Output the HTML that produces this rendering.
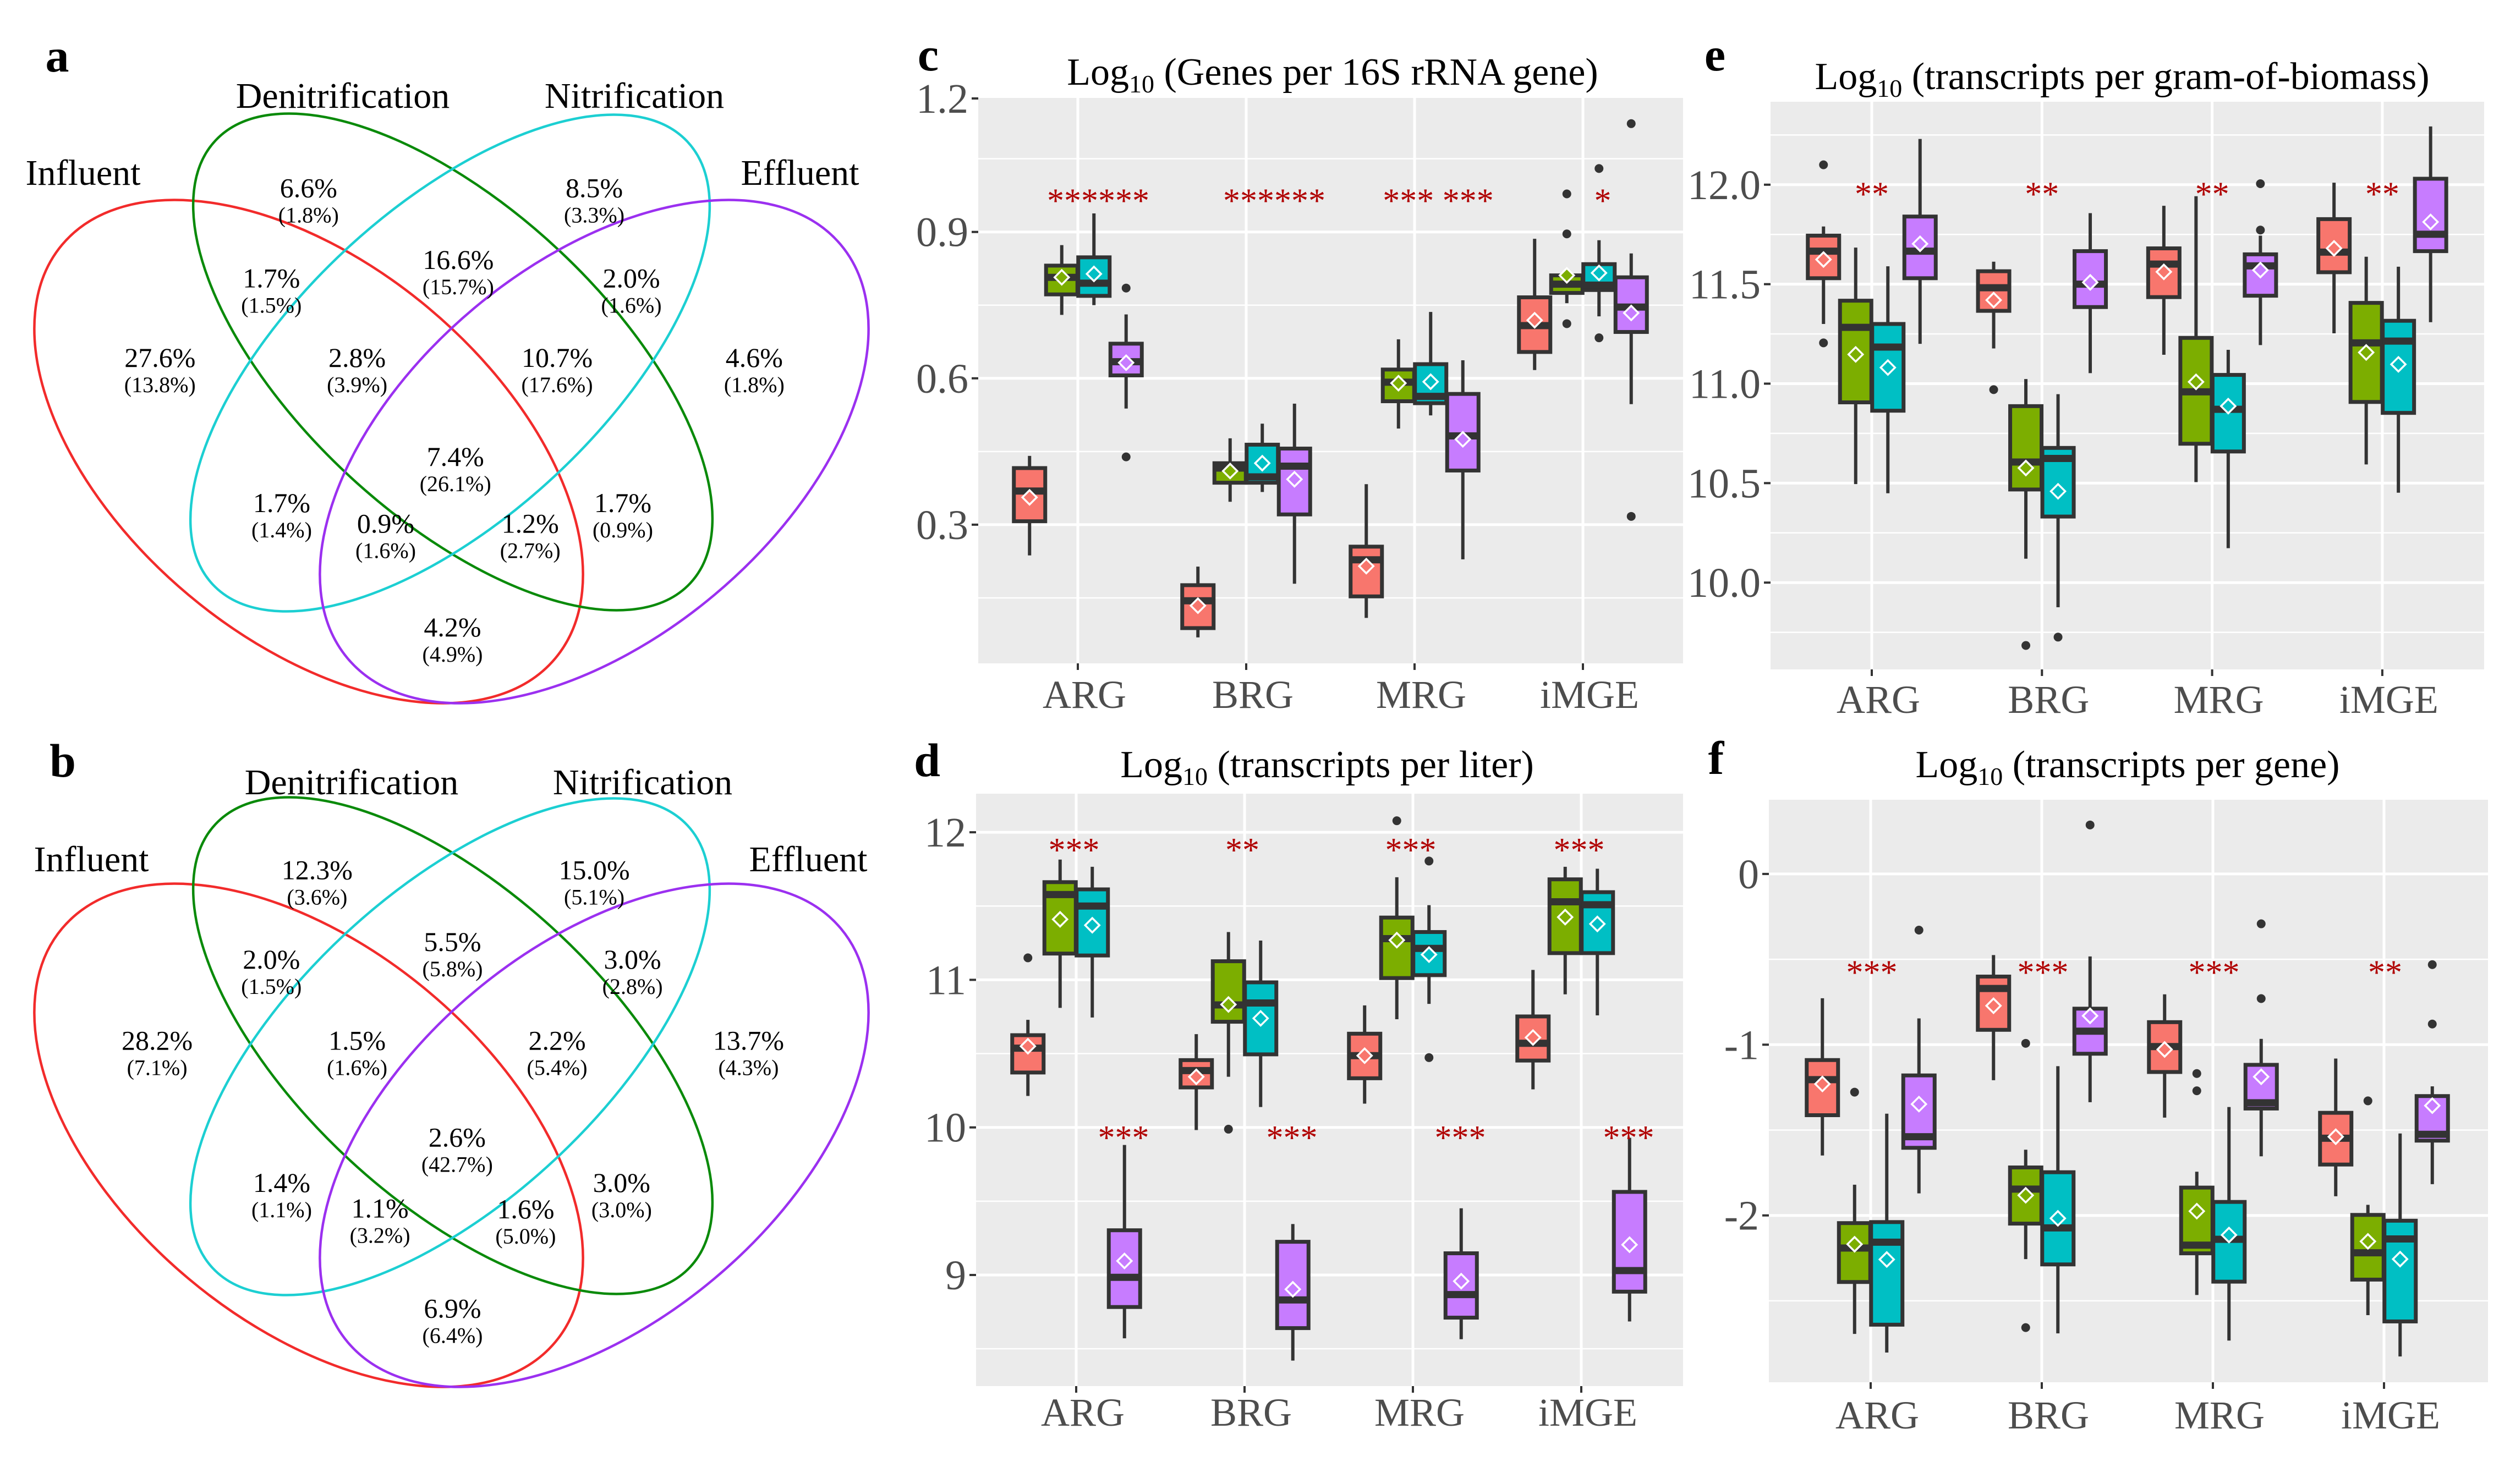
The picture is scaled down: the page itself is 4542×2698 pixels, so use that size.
<!DOCTYPE html>
<html><head><meta charset="utf-8">
<style>
html,body{margin:0;padding:0;background:#fff;}
svg{display:block;font-family:"Liberation Serif",serif;}
</style></head>
<body>
<svg id="fig" xmlns="http://www.w3.org/2000/svg" width="4542" height="2698" viewBox="0 0 4542 2698">
<rect x="0" y="0" width="4542" height="2698" fill="#fff"/>

<!-- Venn a -->
<g>
  <text x="104" y="130" font-size="86" font-weight="bold" text-anchor="middle">a</text>
  <ellipse cx="561" cy="821" rx="585" ry="340" transform="rotate(40 561 821)" fill="none" stroke="#F22B2B" stroke-width="4.5"/>
  <ellipse cx="823" cy="658" rx="590" ry="280" transform="rotate(43 823 658)" fill="none" stroke="#0A8A0A" stroke-width="4.5"/>
  <ellipse cx="818" cy="660" rx="590" ry="280" transform="rotate(-43 818 660)" fill="none" stroke="#1CCFD2" stroke-width="4.5"/>
  <ellipse cx="1080" cy="821" rx="585" ry="340" transform="rotate(-40 1080 821)" fill="none" stroke="#9B30F0" stroke-width="4.5"/>
  <g font-size="66" text-anchor="middle">
    <text x="623" y="196">Denitrification</text>
    <text x="1153" y="196">Nitrification</text>
    <text x="151" y="336">Influent</text>
    <text x="1454" y="336">Effluent</text>
  </g>
  <g id="vennA"></g>
</g>

<!-- Venn b -->
<g>
  <text x="114" y="1412" font-size="86" font-weight="bold" text-anchor="middle">b</text>
  <g transform="translate(0,1243)">
  <ellipse cx="561" cy="821" rx="585" ry="340" transform="rotate(40 561 821)" fill="none" stroke="#F22B2B" stroke-width="4.5"/>
  <ellipse cx="823" cy="658" rx="590" ry="280" transform="rotate(43 823 658)" fill="none" stroke="#0A8A0A" stroke-width="4.5"/>
  <ellipse cx="818" cy="660" rx="590" ry="280" transform="rotate(-43 818 660)" fill="none" stroke="#1CCFD2" stroke-width="4.5"/>
  <ellipse cx="1080" cy="821" rx="585" ry="340" transform="rotate(-40 1080 821)" fill="none" stroke="#9B30F0" stroke-width="4.5"/>
  </g>
  <g font-size="66" text-anchor="middle">
    <text x="639" y="1444">Denitrification</text>
    <text x="1168" y="1444">Nitrification</text>
    <text x="166" y="1584">Influent</text>
    <text x="1469" y="1584">Effluent</text>
  </g>
  <g id="vennB"></g>
</g>

<!-- box plot panels -->
<g id="panelC"></g>
<g id="panelD"></g>
<g id="panelE"></g>
<g id="panelF"></g>
</svg>

<script>
// ---------- Venn data ----------
const vennAMain = ["6.6%","8.5%","1.7%","16.6%","2.0%","27.6%","2.8%","10.7%","4.6%","7.4%","1.7%","0.9%","1.2%","1.7%","4.2%"];
const vennASub  = ["(1.8%)","(3.3%)","(1.5%)","(15.7%)","(1.6%)","(13.8%)","(3.9%)","(17.6%)","(1.8%)","(26.1%)","(1.4%)","(1.6%)","(2.7%)","(0.9%)","(4.9%)"];
const vennAPos  = [[540,365],[1040,365],[475,570],[802,528],[1105,570],[280,750],[625,750],[975,750],[1320,750],[797,975],[493,1080],[675,1127],[928,1127],[1090,1080],[792,1362]];
const vennBMain = ["12.3%","15.0%","2.0%","5.5%","3.0%","28.2%","1.5%","2.2%","13.7%","2.6%","1.4%","1.1%","1.6%","3.0%","6.9%"];
const vennBSub  = ["(3.6%)","(5.1%)","(1.5%)","(5.8%)","(2.8%)","(7.1%)","(1.6%)","(5.4%)","(4.3%)","(42.7%)","(1.1%)","(3.2%)","(5.0%)","(3.0%)","(6.4%)"];
const vennBPos  = [[555,315],[1040,315],[475,518],[792,478],[1107,518],[275,702],[625,702],[975,702],[1310,702],[800,922],[493,1025],[665,1083],[920,1085],[1088,1025],[792,1310]];

const NS = "http://www.w3.org/2000/svg";
function mk(tag, attrs, parent){ const e=document.createElementNS(NS,tag); for(const k in attrs) e.setAttribute(k,attrs[k]); if(parent) parent.appendChild(e); return e; }

function drawVenn(gid, mains, subs, pos, yoff){
  const g=document.getElementById(gid);
  for(let i=0;i<mains.length;i++){
    const x=pos[i][0]*1.0385, y=yoff+pos[i][1]*0.801;
    const t=mk("text",{x:x,y:y+16,"font-size":50,"text-anchor":"middle"},g);
    t.textContent=mains[i];
    
    
    const s=mk("text",{x:x,y:y+62,"font-size":40,"text-anchor":"middle"},g);
    s.textContent=subs[i];
    
    
  }
}
drawVenn("vennA",vennAMain,vennASub,vennAPos,50);
drawVenn("vennB",vennBMain,vennBSub,vennBPos,1330);

// ---------- Box plot data ----------
const categories = ["ARG","BRG","MRG","iMGE"];
const groupColors = ["#F8766D","#7CAE00","#00BFC4","#C77CFF"];

// panel c : Log10 (Genes per 16S rRNA gene)
const cLow  = [[0.237,0.730,0.750,0.538],[0.069,0.347,0.367,0.179],[0.109,0.497,0.524,0.229],[0.617,0.754,0.727,0.547]];
const cQ1   = [[0.307,0.772,0.769,0.606],[0.088,0.386,0.386,0.321],[0.153,0.553,0.549,0.411],[0.654,0.775,0.781,0.695]];
const cMed  = [[0.369,0.807,0.795,0.634],[0.144,0.416,0.398,0.420],[0.228,0.592,0.563,0.482],[0.708,0.793,0.791,0.746]];
const cQ3   = [[0.416,0.831,0.848,0.671],[0.176,0.426,0.464,0.456],[0.255,0.618,0.629,0.568],[0.766,0.811,0.834,0.807]];
const cHigh = [[0.441,0.873,0.938,0.731],[0.214,0.477,0.507,0.548],[0.383,0.680,0.736,0.637],[0.886,0.811,0.883,0.856]];
const cMean = [[0.356,0.807,0.814,0.632],[0.134,0.410,0.426,0.393],[0.215,0.590,0.593,0.475],[0.719,0.811,0.816,0.734]];
const cOut  = [[0,3,0.785],[0,3,0.439],[3,1,0.978],[3,1,0.896],[3,1,0.712],[3,2,1.03],[3,2,0.683],[3,3,1.122],[3,3,0.317]];
const cTicks = [0.3,0.6,0.9,1.2];
const cTickLabels = ["0.3","0.6","0.9","1.2"];
const cMinor = [0.15,0.45,0.75,1.05];

// panel d : Log10 (transcripts per liter)
const dLow  = [[10.213,10.81,10.745,8.571],[9.982,10.343,10.138,8.42],[10.161,10.733,10.837,8.565],[10.258,10.902,10.759,8.685]];
const dQ1   = [[10.372,11.178,11.165,8.783],[10.271,10.716,10.495,8.64],[10.333,11.012,11.032,8.711],[10.453,11.181,11.181,8.887]];
const dMed  = [[10.537,11.578,11.5,8.984],[10.385,10.83,10.843,8.831],[10.486,11.279,11.213,8.867],[10.57,11.529,11.509,9.03]];
const dQ3   = [[10.625,11.662,11.613,9.303],[10.456,11.126,10.983,9.225],[10.635,11.422,11.324,9.147],[10.752,11.681,11.594,9.563]];
const dHigh = [[10.729,11.815,11.766,9.881],[10.632,11.324,11.266,9.345],[10.827,11.695,11.506,9.452],[11.067,11.766,11.753,9.93]];
const dMean = [[10.55,11.41,11.37,9.095],[10.343,10.833,10.739,8.903],[10.486,11.269,11.171,8.958],[10.609,11.425,11.379,9.205]];
const dOut  = [[0,0,11.149],[1,1,9.988],[2,1,12.078],[2,2,11.805],[2,2,10.473]];
const dTicks = [9,10,11,12];
const dTickLabels = ["9","10","11","12"];
const dMinor = [8.5,9.5,10.5,11.5];

// panel e : Log10 (transcripts per gram-of-biomass)
const eLow  = [[11.30,10.495,10.449,11.20],[11.177,10.12,9.876,11.053],[11.145,10.505,10.173,11.194],[11.253,10.594,10.452,11.309]];
const eQ1   = [[11.53,10.906,10.864,11.53],[11.366,10.468,10.332,11.385],[11.435,10.698,10.659,11.442],[11.56,10.908,10.853,11.666]];
const eMed  = [[11.666,11.283,11.184,11.666],[11.482,10.606,10.624,11.5],[11.601,10.959,10.871,11.592],[11.661,11.205,11.214,11.751]];
const eQ3   = [[11.744,11.417,11.30,11.84],[11.565,10.887,10.677,11.666],[11.68,11.23,11.044,11.65],[11.827,11.406,11.316,12.03]];
const eHigh = [[11.79,11.684,11.59,12.23],[11.613,11.023,10.947,11.857],[11.894,11.942,11.17,11.744],[12.01,11.638,11.588,12.293]];
const eMean = [[11.624,11.147,11.081,11.703],[11.42,10.576,10.459,11.509],[11.562,11.009,10.887,11.571],[11.68,11.157,11.097,11.813]];
const eOut  = [[0,0,12.10],[0,0,11.205],[1,0,10.97],[1,1,9.684],[1,2,9.726],[2,3,12.005],[2,3,11.772]];
const eTicks = [10,10.5,11,11.5,12];
const eTickLabels = ["10.0","10.5","11.0","11.5","12.0"];
const eMinor = [9.75,10.25,10.75,11.25,11.75,12.25];

// panel f : Log10 (transcripts per gene)
const fLow  = [[-1.649,-2.694,-2.803,-1.871],[-1.208,-2.256,-2.691,-1.337],[-1.427,-2.466,-2.733,-1.654],[-1.888,-2.584,-2.826,-1.817]];
const fQ1   = [[-1.413,-2.39,-2.64,-1.604],[-0.913,-2.048,-2.287,-1.053],[-1.16,-2.222,-2.388,-1.374],[-1.702,-2.376,-2.621,-1.562]];
const fMed  = [[-1.205,-2.191,-2.157,-1.539],[-0.671,-1.846,-2.073,-0.921],[-1.011,-2.174,-2.14,-1.34],[-1.548,-2.219,-2.138,-1.525]];
const fQ3   = [[-1.09,-2.045,-2.039,-1.18],[-0.601,-1.719,-1.747,-0.789],[-0.868,-1.837,-1.921,-1.118],[-1.399,-1.997,-2.031,-1.301]];
const fHigh = [[-0.728,-1.82,-1.404,-0.846],[-0.475,-1.615,-1.126,-0.483],[-0.705,-1.744,-1.365,-0.966],[-1.081,-1.938,-1.52,-1.244]];
const fMean = [[-1.23,-2.169,-2.258,-1.348],[-0.772,-1.882,-2.017,-0.831],[-1.028,-1.975,-2.115,-1.188],[-1.539,-2.152,-2.256,-1.357]];
const fOut  = [[0,1,-1.278],[0,3,-0.329],[1,1,-0.992],[1,1,-2.657],[1,3,0.287],[2,1,-1.169],[2,1,-1.27],[2,3,-0.292],[2,3,-0.73],[3,1,-1.329],[3,3,-0.531],[3,3,-0.879]];
const fTicks = [-2,-1,0];
const fTickLabels = ["-2","-1","0"];
const fMinor = [-2.5,-1.5,-0.5];

// significance annotations: [category index, label, value]
const cStars = [[0,"******",0.979],[1,"******",0.979],[2,"*** ***",0.979],[3,"*",0.979]];
const dStars = [[0,"***",11.93],[1,"**",11.93],[2,"***",11.93],[3,"***",11.93]];
const dStars2 = [[0,"***",9.98],[1,"***",9.98],[2,"***",9.98],[3,"***",9.98]];
const eStars = [[0,"**",11.99],[1,"**",11.99],[2,"**",11.99],[3,"**",11.99]];
const fStars = [[0,"***",-0.534],[1,"***",-0.534],[2,"***",-0.534],[3,"**",-0.534]];

function drawPanel(o){
  const g=document.getElementById(o.id);
  const Y=v=>o.yRef+(o.vRef-v)*o.ppu;
  const X=i=>o.x0+i*o.dx;
  const bw=57, off=j=>(j-1.5)*58.5;
  const pl=mk("text",{x:o.labelX,y:o.labelY,"font-size":86,"font-weight":"bold","text-anchor":"middle"},g);
  pl.textContent=o.letter;
  
  
  const tt=mk("text",{x:o.titleX,y:o.titleY,"font-size":70,"text-anchor":"middle"},g);
  
  
  tt.innerHTML='Log<tspan font-size="46" dy="14">10</tspan><tspan dy="-14"> ('+o.title+')</tspan>';
  const bg=mk("rect",{x:o.px,y:o.py,width:o.pw,height:o.ph,fill:"#EBEBEB"},g);
  
  
  o.minor.forEach(v=>{const y=Y(v); if(y>o.py&&y<o.py+o.ph){const l=mk("line",{x1:o.px,x2:o.px+o.pw,y1:y,y2:y,stroke:"#fff","stroke-width":2.5},g);
    
    }});
  o.ticks.forEach((v,k)=>{let y=Y(v); if(y<o.py) y=o.py+1;
    if(y>o.py+2){const l=mk("line",{x1:o.px,x2:o.px+o.pw,y1:y,y2:y,stroke:"#fff","stroke-width":5},g);
    
    }
    const tk=mk("line",{x1:o.px-12,x2:o.px,y1:y,y2:y,stroke:"#333","stroke-width":4},g);
    
    
    const t=mk("text",{x:o.px-18,y:y+26,"font-size":76,"text-anchor":"end",fill:"#4D4D4D"},g);
    t.textContent=o.tickLabels[k];
    
    
  });
  categories.forEach((c,i)=>{
    const l=mk("line",{x1:X(i),x2:X(i),y1:o.py,y2:o.py+o.ph,stroke:"#fff","stroke-width":5},g);
    
    
    const tk=mk("line",{x1:X(i),x2:X(i),y1:o.py+o.ph,y2:o.py+o.ph+12,stroke:"#333","stroke-width":4},g);
    
    
    const t=mk("text",{x:X(i)+12,y:o.xLabelY,"font-size":72,"text-anchor":"middle",fill:"#4D4D4D"},g);
    t.textContent=c;
    
    
  });
  for(let i=0;i<4;i++)for(let j=0;j<4;j++){
    const cx=X(i)+off(j);
    const bx=mk("g",{},g);
    
    
    mk("line",{x1:cx,x2:cx,y1:Y(o.high[i][j]),y2:Y(o.q3[i][j]),stroke:"#333","stroke-width":6},bx);
    mk("line",{x1:cx,x2:cx,y1:Y(o.q1[i][j]),y2:Y(o.low[i][j]),stroke:"#333","stroke-width":6},bx);
    const yt=Y(o.q3[i][j]), yb=Y(o.q1[i][j]);
    mk("rect",{x:cx-bw/2,y:yt,width:bw,height:Math.max(1,yb-yt),fill:groupColors[j],stroke:"#333","stroke-width":7},bx);
    const ym=Y(o.med[i][j]);
    mk("line",{x1:cx-bw/2,x2:cx+bw/2,y1:ym,y2:ym,stroke:"#333","stroke-width":13},bx);
    const my=Y(o.mean[i][j]), d=13;
    const dm=mk("polygon",{points:`${cx},${my-d} ${cx+d},${my} ${cx},${my+d} ${cx-d},${my}`,fill:groupColors[j],stroke:"#fff","stroke-width":3.5},bx);
    
    
  }
  o.out.forEach(p=>{
    const c=mk("circle",{cx:X(p[0])+off(p[1]),cy:Y(p[2]),r:8,fill:"#333"},g);
    
    
  });
  o.stars.forEach(s=>{
    const st=s[3]===undefined?o.starOff:s[3];
    const t=mk("text",{x:X(s[0])+st,y:Y(s[2])+34,"font-size":62,"text-anchor":"middle",fill:"#B00000"},g);
    t.textContent=s[1];
    
    
  });
}

drawPanel({id:"panelC",letter:"c",labelX:1687,labelY:128,title:"Genes per 16S rRNA gene",titleX:2422,titleY:154,
  px:1778,py:178,pw:1281,ph:1028,yRef:421.7,vRef:0.9,ppu:887,x0:1959,dx:306,xLabelY:1287,
  ticks:cTicks,tickLabels:cTickLabels,minor:cMinor,low:cLow,q1:cQ1,med:cMed,q3:cQ3,high:cHigh,mean:cMean,out:cOut,
  stars:[[0,"******",0.979,37],[1,"******",0.979,51],[2,"*** ***",0.979,43],[3,"*",0.979,36]],starOff:0});

drawPanel({id:"panelD",letter:"d",labelX:1685,labelY:1411,title:"transcripts per liter",titleX:2412,titleY:1413,
  px:1774,py:1443,pw:1285,ph:1077,yRef:1513.1,vRef:12,ppu:268.3,x0:1956,dx:306,xLabelY:2592,
  ticks:dTicks,tickLabels:dTickLabels,minor:dMinor,low:dLow,q1:dQ1,med:dMed,q3:dQ3,high:dHigh,mean:dMean,out:dOut,
  stars:dStars.map(s=>[s[0],s[1],s[2],-4]).concat(dStars2.map(s=>[s[0],s[1],s[2],86])),starOff:0});

drawPanel({id:"panelE",letter:"e",labelX:3117,labelY:128,title:"transcripts per gram-of-biomass",titleX:3857,titleY:162,
  px:3218,py:185,pw:1297,ph:1032,yRef:335.8,vRef:12,ppu:361.7,x0:3402,dx:309.3,xLabelY:1296,
  ticks:eTicks,tickLabels:eTickLabels,minor:eMinor,low:eLow,q1:eQ1,med:eMed,q3:eQ3,high:eHigh,mean:eMean,out:eOut,
  stars:eStars,starOff:0});

drawPanel({id:"panelF",letter:"f",labelX:3119,labelY:1407,title:"transcripts per gene",titleX:3867,titleY:1413,
  px:3215,py:1454,pw:1307,ph:1059,yRef:1588.9,vRef:0,ppu:310.4,x0:3400,dx:311,xLabelY:2597,
  ticks:fTicks,tickLabels:fTickLabels,minor:fMinor,low:fLow,q1:fQ1,med:fMed,q3:fQ3,high:fHigh,mean:fMean,out:fOut,
  stars:fStars,starOff:2});
</script>
</body></html>
